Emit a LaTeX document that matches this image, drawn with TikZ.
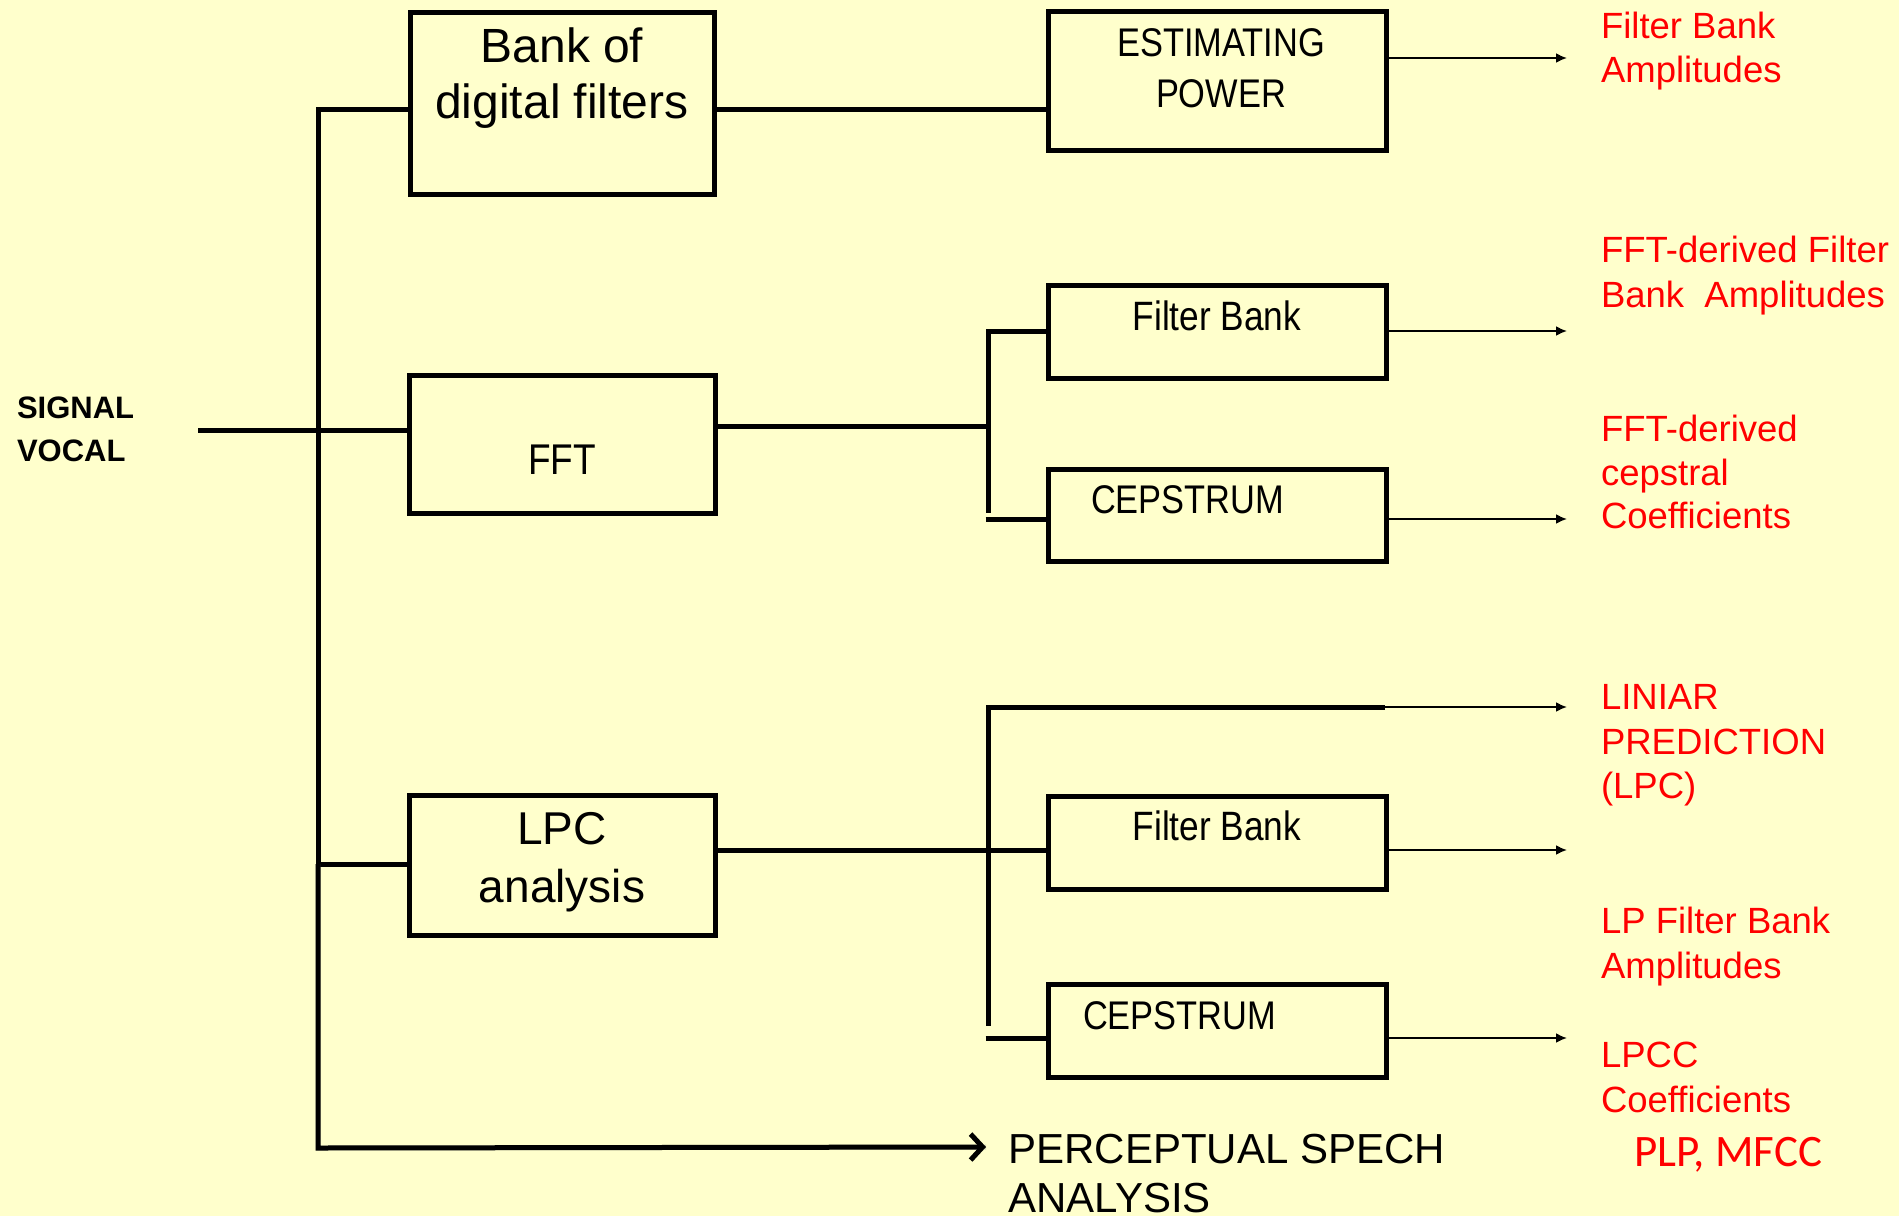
\documentclass[tikz,border=0pt]{standalone}
\usepackage{fontspec}
\setmainfont{Liberation Sans}
\newfontfamily\arialf{Liberation Sans}
\newfontfamily\narrowf[FakeStretch=0.86]{Liberation Sans}
\newfontfamily\calibf{Carlito}
\usetikzlibrary{arrows.meta}
\definecolor{bgyellow}{HTML}{FFFFCC}
\definecolor{redtxt}{HTML}{FF0000}
\tikzset{
  box/.style={draw=black, line width=5pt, rectangle, inner sep=0pt, outer sep=0pt},
  wire/.style={line width=5pt, line cap=butt},
  arr/.style={line width=2pt, -{Latex[length=11pt,width=10pt]}},
  lbl/.style={inner sep=0pt, outer sep=0pt, anchor=base},
  lblw/.style={inner sep=0pt, outer sep=0pt, anchor=base west},
  bigtxt/.style={font=\arialf\fontsize{48}{48}\selectfont},
  lpctxt/.style={font=\arialf\fontsize{46}{46}\selectfont},
  nartxt/.style={font=\narrowf\fontsize{40}{40}\selectfont},
  redtext/.style={lblw, text=redtxt, font=\arialf\fontsize{36.5}{36.5}\selectfont},
}
\begin{document}
\begin{tikzpicture}[x=1pt,y=-1pt]
\fill[bgyellow] (0,0) rectangle (1899,1216);
\useasboundingbox (0,0) rectangle (1899,1216);

% boxes
\node[box, minimum width=304.5pt, minimum height=182pt] (bank) at (562.25,103.5) {};
\node[box, minimum width=338pt, minimum height=138.5pt] (est) at (1217,80.75) {};
\node[box, minimum width=306pt, minimum height=138pt] (fft) at (562,444) {};
\node[box, minimum width=338pt, minimum height=93pt] (fb1) at (1217,331.5) {};
\node[box, minimum width=338pt, minimum height=92pt] (cep1) at (1217,515) {};
\node[box, minimum width=306pt, minimum height=140pt] (lpc) at (562,865) {};
\node[box, minimum width=338pt, minimum height=92.5pt] (fb2) at (1217,842.75) {};
\node[box, minimum width=338pt, minimum height=93pt] (cep2) at (1217,1030.5) {};

% coordinates
\coordinate (tTop) at (318,109);
\coordinate (tLPC) at (318,864);
\coordinate (tBot) at (318,1148);
\coordinate (pEnd) at (986,1147);
\coordinate (sig) at (198,430.5);
\coordinate (fj) at (988,426);
\coordinate (f1) at (988,331);
\coordinate (fBot) at (988,513);
\coordinate (c1) at (988,519);
\coordinate (l1) at (988,707);
\coordinate (l2) at (988,1026);
\coordinate (lk) at (1385,707);
\coordinate (c2) at (988,1038);
\coordinate (o1) at (1567,58);
\coordinate (o2) at (1567,331);
\coordinate (o3) at (1567,519);
\coordinate (o4) at (1567,707);
\coordinate (o5) at (1567,850);
\coordinate (o6) at (1567,1038);

% trunk
\draw[wire, line cap=butt] (tTop -| bank.west) -- (tTop) -- (tLPC) -- (tLPC -| lpc.west);
\draw[line width=5pt, black!40, opacity=0.35, shift={(3,4)}] (tLPC) -- (tBot) -- (pEnd);
\draw[wire, line join=miter, -{Straight Barb[length=12pt,width=26pt]}] ([yshift=0pt]tLPC) -- (tBot) -- (pEnd);
\draw[wire] (sig) -- (sig -| fft.west);
\draw[wire] (bank.east |- tTop) -- (est.west |- tTop);

% FFT branch
\draw[wire] (fft.east |- fj) -- (fj);
\draw[wire, line join=miter] (f1 -| fb1.west) -- (f1) -- (fBot);
\draw[wire] ([xshift=-2.5pt]c1) -- (c1 -| cep1.west);

% LPC branch
\draw[wire, line join=miter] (lk) -- (l1) -- (l2);
\draw[line width=5pt, black!40, opacity=0.3, shift={(2,4)}] (o5 -| l1) -- (o5 -| fb2.west);
\draw[wire] (lpc.east |- o5) -- (o5 -| fb2.west);
\draw[wire] ([xshift=-2.5pt]c2) -- (c2 -| cep2.west);

% output arrows
\draw[arr] (o1 -| est.east) -- (o1);
\draw[arr] (o2 -| fb1.east) -- (o2);
\draw[arr] (o3 -| cep1.east) -- (o3);
\draw[arr] (lk) -- (o4);
\draw[arr] (o5 -| fb2.east) -- (o5);
\draw[arr] (o6 -| cep2.east) -- (o6);

% box texts
\node[lbl, bigtxt] (bankA) at (562,62) {Bank of};
\node[lbl, bigtxt] (bankB) at (562,118) {digital filters};
\node[lbl, nartxt] (estA) at (1221,56.6) {ESTIMATING};
\node[lbl, nartxt] (estB) at (1221,107) {POWER};
\node[lbl, font=\narrowf\fontsize{43}{43}\selectfont] (fftT) at (562,474.5) {FFT};
\node[lbl, font=\narrowf\fontsize{41}{41}\selectfont] (fb1T) at (1217,330) {Filter Bank};
\node[lblw, nartxt] (cep1T) at (1091,513) {CEPSTRUM};
\node[lbl, lpctxt] (lpcA) at (562,844) {LPC};
\node[lbl, lpctxt] (lpcB) at (562,902.5) {analysis};
\node[lbl, font=\narrowf\fontsize{41}{41}\selectfont] (fb2T) at (1217,840) {Filter Bank};
\node[lblw, nartxt] (cep2T) at (1083,1029) {CEPSTRUM};

% left label
\node[lblw, font=\arialf\bfseries\fontsize{31}{31}\selectfont] (sigA) at (17,418) {SIGNAL};
\node[lblw, font=\arialf\bfseries\fontsize{31}{31}\selectfont] (sigB) at (17,461) {VOCAL};

% perceptual
\node[lblw, font=\arialf\fontsize{42}{42}\selectfont] (perA) at (1008.5,1163) {PERCEPTUAL SPECH};
\node[lblw, font=\arialf\fontsize{42}{42}\selectfont] (perB) at (1008.5,1212) {ANALYSIS};

% red outputs
\node[redtext] (r1a) at (1601,38) {Filter Bank};
\node[redtext] (r1b) at (1601,82) {Amplitudes};
\node[redtext] (r2a) at (1601,262) {FFT-derived Filter};
\node[redtext] (r2b) at (1601,307) {Bank\ \ Amplitudes};
\node[redtext] (r3a) at (1601,441) {FFT-derived};
\node[redtext] (r3b) at (1601,485) {cepstral};
\node[redtext] (r3c) at (1601,528) {Coefficients};
\node[redtext] (r4a) at (1601,709) {LINIAR};
\node[redtext] (r4b) at (1601,754) {PREDICTION};
\node[redtext] (r4c) at (1601,798) {(LPC)};
\node[redtext] (r5a) at (1601,933) {LP Filter Bank};
\node[redtext] (r5b) at (1601,978) {Amplitudes};
\node[redtext] (r6a) at (1601,1067) {LPCC};
\node[redtext] (r6b) at (1601,1112) {Coefficients};
\node[lblw, text=redtxt, font=\calibf\fontsize{45}{45}\selectfont] (plp) at (1634,1166) {PLP, MFCC};
\end{tikzpicture}
\end{document}
